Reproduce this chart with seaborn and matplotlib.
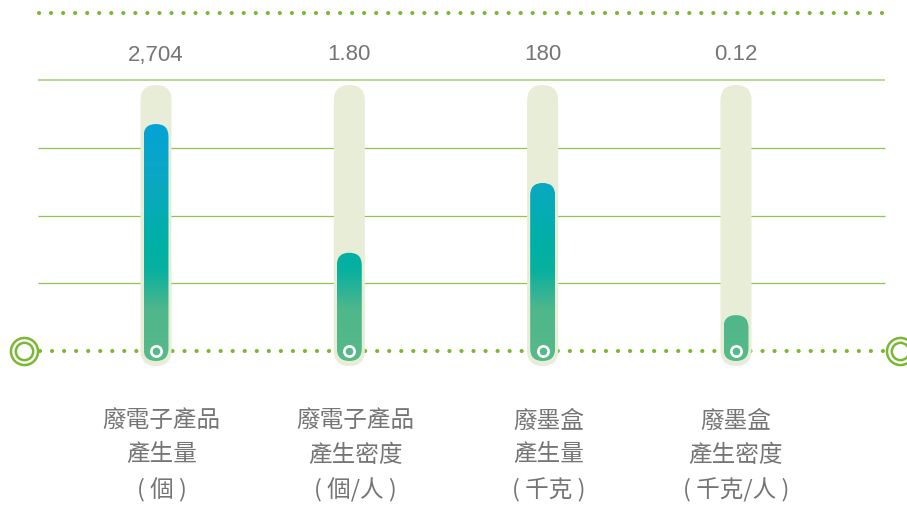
import numpy as np
import matplotlib
matplotlib.use("Agg")
import matplotlib.pyplot as plt
from matplotlib.patches import FancyBboxPatch
from matplotlib.colors import LinearSegmentedColormap, Normalize
import seaborn as sns

# chart data
categories = ["廢電子產品產生量", "廢電子產品產生密度", "廢墨盒產生量", "廢墨盒產生密度"]
label_lines = [
    ["廢電子產品", "產生量", "( 個 )"],
    ["廢電子產品", "產生密度", "( 個/人 )"],
    ["廢墨盒", "產生量", "( 千克 )"],
    ["廢墨盒", "產生密度", "( 千克/人 )"],
]
value_labels = ["2,704", "1.80", "180", "0.12"]
# fill level of each gauge, read in gridline units (baseline = 0)
fill_levels = [3.35, 1.45, 2.48, 0.53]

GREEN = "#7ab833"
TRACK = "#e7edd6"
TEXT = "#757575"

sns.set_theme(style="white")
plt.rcParams["font.family"] = ["Liberation Sans", "Noto Sans CJK TC", "DejaVu Sans"]

fig = plt.figure(figsize=(9.07, 5.08), dpi=100)
ax = fig.add_axes([0, 0, 1, 1])

sns.barplot(x=categories, y=fill_levels, ax=ax, width=0.129,
            color="#00b0a0", errorbar=None)

# pixel -> data helpers: 193.33 px per category, 67.75 px per grid unit
xpx, ypx = 193.33, 67.75
aspect = xpx / ypx
ax.axis("off")

x_left, x_right = -0.61, 3.77

# gridlines
ax.hlines([1, 2, 3], x_left, x_right, color="#8fc44f", lw=0.9, zorder=1)
ax.hlines([4], x_left, x_right, color="#b9d98f", lw=1.4, zorder=1)

# dotted lines
dot_style = dict(color=GREEN, lw=3.0, linestyle=(0, (0.01, 2.88)),
                 dash_capstyle="round", zorder=1)
ax.plot([x_left + 0.005, x_right], [4.99, 4.99], **dot_style)
ax.plot([-0.6, x_right], [0, 0], **dot_style)

# end circles on baseline
for cx in [-0.685, 3.848]:
    ax.plot(cx, 0, "o", ms=19.5, mfc="white", mec=GREEN, mew=1.8, zorder=3)
    ax.plot(cx, 0, "o", ms=12.5, mfc="none", mec=GREEN, mew=1.8, zorder=3)

# gradient colormap (depends on height, common to all gauges)
stops = [(-0.3, "#58ba88"), (0.6, "#4fb78c"), (1.2, "#06b0a0"),
         (1.6, "#00b0a6"), (2.5, "#0aa8c2"), (3.6, "#03a0dc")]
lo, hi = stops[0][0], stops[-1][0]
cmap = LinearSegmentedColormap.from_list(
    "gauge", [((v - lo) / (hi - lo), c) for v, c in stops])
grad = np.linspace(lo, hi, 256).reshape(-1, 1)

track_w = 31 / xpx
fill_bottom = -10 / ypx
track_bottom = -15 / ypx
track_top = 266 / ypx

for i, bar in enumerate(list(ax.patches)):
    bx, bw, bh = bar.get_x(), bar.get_width(), bar.get_height()
    cx = bx + bw / 2
    bar.remove()

    track = FancyBboxPatch((cx - track_w / 2, track_bottom), track_w,
                           track_top - track_bottom,
                           boxstyle=f"round,pad=0,rounding_size={track_w / 2}",
                           mutation_aspect=aspect, fc=TRACK, ec="none", zorder=2)
    ax.add_patch(track)

    fill = FancyBboxPatch((bx, fill_bottom), bw, bh - fill_bottom,
                          boxstyle=f"round,pad=0,rounding_size={bw / 2}",
                          mutation_aspect=aspect, fc="none", ec="none", zorder=3)
    ax.add_patch(fill)
    im = ax.imshow(grad, extent=(bx, bx + bw, lo, hi), origin="lower",
                   cmap=cmap, norm=Normalize(lo, hi), aspect="auto", zorder=3)
    im.set_clip_path(fill)

    ax.plot(cx, 0, "o", ms=7.4, mfc="none", mec="white", mew=1.9, zorder=4)

    ax.text(cx, 296 / ypx, value_labels[i], ha="center", va="center",
            fontsize=16, color=TEXT, family=["Liberation Sans", "DejaVu Sans"])

    dx = 0.03 if i < 3 else 0.0
    for line, py in zip(label_lines[i], [421, 455, 490]):
        ax.text(cx + dx, (351 - py) / ypx, line, ha="center", va="center",
                fontsize=17, color=TEXT,
                family=["Noto Sans CJK TC", "DejaVu Sans"])

ax.set_xlim(-156 / xpx, (907 - 156) / xpx)
ax.set_ylim(-157 / ypx, (508 - 157) / ypx)

fig.savefig("out.png", dpi=100)
